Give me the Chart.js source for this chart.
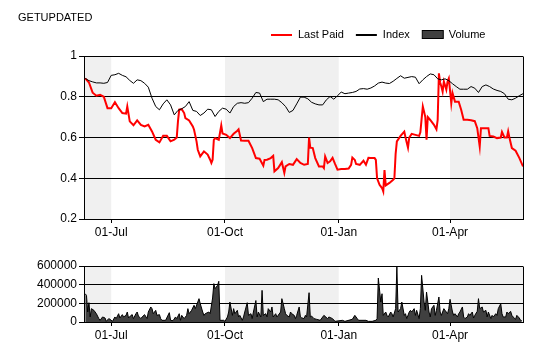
<!DOCTYPE html>
<html><head><meta charset="utf-8">
<script src="https://cdn.jsdelivr.net/npm/chart.js@4.4.1/dist/chart.umd.min.js"></script>
<style>
html,body{margin:0;padding:0;background:#fff;width:540px;height:360px;overflow:hidden}
canvas{position:absolute;left:0}
#top{top:0}
#bottom{top:245px}
</style></head><body>
<canvas id="top" width="540" height="245"></canvas>
<canvas id="bottom" width="540" height="115"></canvas>
<script>
// ---------- data (days are counted from 01-Jul) ----------
const chartTitle = 'GETUPDATED';
const seriesNames = ['Last Paid', 'Index', 'Volume'];
const tickDays = [0, 92, 184, 274];
const tickLabels = ['01-Jul', '01-Oct', '01-Jan', '01-Apr'];
const axisDayMin = -22, axisDayMax = 333;
const shadedRanges = [[-22, 0], [92, 184], [274, 333]];

const paidDay = [-21,-18,-15,-12,-9,-6,-3,0,3,6,
  9,12,13,15,18,21,24,27,30,33,
  36,39,42,45,48,51,53,54,55,57,
  59,60,63,66,67,69,70,72,75,78,
  80,81,82,83,84,87,89,90,93,96,
  99,102,103,105,108,111,114,117,120,123,
  124,126,129,131,132,135,138,140,141,144,
  147,150,153,156,159,160,161,163,165,168,
  171,172,173,175,177,179,181,183,186,189,
  192,194,195,197,198,201,204,206,208,210,
  213,214,215,217,219,220,221,222,225,228,
  229,230,231,234,237,238,240,241,243,246,
  249,250,251,252,253,254,255,256,258,261,
  263,264,265,266,267,268,269,271,272,273,
  274,275,276,278,281,283,285,288,291,294,
  296,298,299,303,305,306,309,312,315,316,
  318,320,321,322,324,327,330,333];
const paidValue = [0.89,0.87,0.82,0.805,0.81,0.80,0.744,0.744,0.773,0.744,
  0.72,0.717,0.752,0.679,0.66,0.684,0.662,0.654,0.662,0.63,
  0.589,0.576,0.608,0.608,0.581,0.589,0.60,0.68,0.737,0.739,
  0.72,0.695,0.684,0.654,0.638,0.581,0.54,0.507,0.532,0.516,
  0.491,0.475,0.491,0.589,0.597,0.589,0.659,0.62,0.613,0.597,
  0.618,0.633,0.64,0.585,0.584,0.584,0.548,0.499,0.496,0.462,
  0.49,0.491,0.499,0.51,0.434,0.45,0.479,0.426,0.458,0.47,
  0.466,0.494,0.475,0.466,0.47,0.60,0.55,0.548,0.499,0.458,
  0.458,0.45,0.507,0.475,0.483,0.50,0.47,0.442,0.445,0.445,
  0.448,0.466,0.502,0.49,0.47,0.466,0.486,0.466,0.50,0.499,
  0.499,0.49,0.40,0.368,0.352,0.335,0.44,0.365,0.377,0.393,
  0.40,0.52,0.581,0.608,0.629,0.60,0.55,0.60,0.618,0.613,
  0.608,0.625,0.69,0.752,0.727,0.70,0.589,0.70,0.686,0.662,
  0.64,0.686,0.915,0.87,0.85,0.825,0.875,0.835,0.875,0.89,
  0.83,0.768,0.818,0.776,0.776,0.736,0.687,0.687,0.685,0.68,
  0.646,0.556,0.646,0.646,0.646,0.608,0.605,0.597,0.60,0.627,
  0.60,0.60,0.63,0.60,0.548,0.535,0.50,0.458];

const indexDay = [-21,-18,-15,-12,-9,-6,-3,0,3,6,
  9,12,15,18,21,24,27,30,33,36,
  39,42,45,48,51,54,57,60,63,66,
  69,72,75,78,81,84,87,90,93,96,
  99,102,105,108,111,114,117,120,123,126,
  129,132,135,138,141,144,147,150,153,156,
  159,162,165,168,171,174,177,180,183,186,
  189,192,195,198,201,204,207,210,213,216,
  219,222,225,228,231,234,237,240,243,246,
  249,252,255,258,261,264,267,270,273,276,
  279,282,285,288,291,294,297,300,303,306,
  309,312,315,318,321,324,327,330,333];
const indexValue = [0.890,0.879,0.873,0.868,0.868,0.866,0.870,0.905,0.908,0.915,
  0.905,0.898,0.880,0.866,0.883,0.879,0.866,0.847,0.793,0.752,
  0.736,0.765,0.785,0.760,0.711,0.733,0.741,0.752,0.776,0.733,
  0.728,0.708,0.720,0.739,0.736,0.703,0.728,0.744,0.739,0.720,
  0.752,0.768,0.771,0.768,0.771,0.793,0.821,0.818,0.776,0.788,
  0.788,0.788,0.785,0.771,0.752,0.723,0.733,0.765,0.798,0.798,
  0.790,0.773,0.765,0.760,0.760,0.785,0.801,0.788,0.805,0.823,
  0.815,0.818,0.821,0.826,0.838,0.840,0.837,0.843,0.853,0.867,
  0.872,0.867,0.865,0.876,0.890,0.903,0.891,0.895,0.899,0.896,
  0.864,0.883,0.899,0.912,0.908,0.888,0.883,0.888,0.879,0.864,
  0.850,0.837,0.837,0.837,0.850,0.842,0.821,0.850,0.858,0.850,
  0.838,0.831,0.826,0.815,0.788,0.785,0.793,0.805,0.815];

const volumeDay = [-21,-20,-19,-18,-17,-16,-14,-12,-10,-9,-7,-5,-4,-2,-1,1,3,4,6,7,
  9,10,12,13,14,16,17,18,20,21,22,24,25,27,29,30,32,33,34,36,
  37,39,40,41,44,47,48,50,52,53,55,56,57,59,61,62,63,65,67,68,
  70,71,72,74,75,76,79,80,82,83,84,86,87,88,91,92,94,95,96,98,
  99,100,102,103,104,106,107,108,110,111,113,114,115,117,118,119,121,122,123,125,
  126,127,129,130,131,133,134,135,137,138,140,141,142,144,145,146,148,149,150,152,
  153,154,156,157,158,160,161,162,164,166,169,172,175,176,179,181,187,189,195,197,
  199,200,206,208,211,214,215,216,218,219,220,222,223,224,226,227,228,230,231,232,
  234,235,237,238,239,241,242,243,245,246,247,249,250,251,253,254,255,257,258,259,
  261,262,263,265,266,267,269,270,272,273,274,276,277,278,280,281,282,284,285,286,
  288,289,290,292,293,294,296,297,298,300,301,303,304,305,307,308,309,311,312,313,
  315,316,317,319,320,321,323,324,325,327,328,330,331,332];
const volumeValue = [303000,285000,107000,207000,54000,143000,125000,89000,36000,18000,54000,43000,7000,36000,29000,7000,54000,36000,89000,43000,
  79000,54000,71000,107000,43000,71000,79000,36000,89000,107000,64000,36000,54000,79000,36000,107000,161000,143000,89000,125000,
  71000,79000,36000,18000,18000,100000,18000,14000,54000,36000,89000,18000,71000,36000,71000,143000,89000,125000,179000,143000,
  214000,250000,196000,107000,71000,89000,107000,89000,257000,411000,357000,393000,436000,18000,18000,7000,54000,107000,214000,71000,
  143000,89000,125000,54000,71000,18000,54000,107000,207000,71000,89000,36000,107000,230000,54000,107000,54000,339000,71000,89000,
  54000,143000,107000,161000,54000,89000,54000,71000,107000,250000,143000,89000,71000,54000,107000,89000,71000,36000,71000,161000,
  54000,45000,36000,71000,54000,314000,54000,64000,36000,29000,18000,71000,36000,54000,36000,7000,18000,7000,29000,71000,
  36000,18000,18000,7000,7000,18000,36000,471000,214000,303000,71000,107000,71000,54000,107000,89000,54000,143000,589000,107000,
  143000,214000,71000,89000,36000,107000,125000,107000,143000,71000,125000,36000,143000,500000,214000,125000,321000,107000,54000,143000,
  179000,71000,125000,268000,107000,71000,143000,125000,89000,143000,243000,107000,71000,89000,54000,89000,107000,161000,54000,36000,
  54000,89000,71000,107000,43000,71000,114000,250000,143000,161000,107000,125000,54000,107000,36000,71000,54000,89000,71000,143000,
  196000,89000,54000,54000,107000,89000,114000,71000,54000,29000,71000,43000,18000,14000];

const priceAxis = {min: 0.2, max: 1, step: 0.2};
const volumeAxis = {min: 0, max: 600000, step: 200000};

// ---------- drawing ----------
const FONT_FAMILY = '"Liberation Sans", Arial, sans-serif';
const tickFont = {family: FONT_FAMILY, size: 12};

function pts(days, vals) { return days.map((d, i) => ({x: d, y: vals[i]})); }

function alignPx(p) { return Math.round(p - 0.5) + 0.5; }

const framePlugin = {
  id: 'frame',
  beforeDraw(chart) {
    const {ctx, chartArea: a, scales: {x}} = chart;
    ctx.save();
    ctx.fillStyle = '#f0f0f0';
    shadedRanges.forEach(([s, e]) => {
      const x0 = x.getPixelForValue(Math.max(s, x.min));
      const x1 = x.getPixelForValue(Math.min(e, x.max));
      ctx.fillRect(x0, a.top, x1 - x0, a.bottom - a.top);
    });
    ctx.restore();
  },
  afterDraw(chart) {
    const {ctx, chartArea: a} = chart;
    ctx.save();
    ctx.strokeStyle = '#000';
    ctx.lineWidth = 1;
    ctx.beginPath();
    const xr = alignPx(a.right);
    ctx.moveTo(xr, alignPx(a.top));
    ctx.lineTo(xr, alignPx(a.bottom));
    ctx.stroke();
    ctx.restore();
  }
};

const headerPlugin = {
  id: 'header',
  afterDraw(chart) {
    const ctx = chart.ctx;
    ctx.save();
    ctx.font = '11px ' + FONT_FAMILY;
    ctx.fillStyle = '#000';
    ctx.textBaseline = 'middle';
    ctx.textAlign = 'left';
    ctx.fillText(chartTitle, 18, 17.5);
    const y = 35;
    let x = 271;
    const styles = [{type: 'line', color: '#ff0000'}, {type: 'line', color: '#000000'}, {type: 'box'}];
    seriesNames.forEach((name, i) => {
      const st = styles[i];
      if (st.type === 'line') {
        ctx.strokeStyle = st.color; ctx.lineWidth = 2;
        ctx.beginPath(); ctx.moveTo(x, y); ctx.lineTo(x + 21, y); ctx.stroke();
      } else {
        ctx.fillStyle = '#404040';
        ctx.fillRect(x + 0.5, y - 4.5, 21, 8);
        ctx.strokeStyle = '#000'; ctx.lineWidth = 1;
        ctx.strokeRect(x + 0.5, y - 4.5, 21, 8);
        ctx.fillStyle = '#000';
      }
      ctx.fillText(name, x + 27, y);
      x += 27 + ctx.measureText(name).width + 12;
    });
    ctx.restore();
  }
};

function xScale(height) {
  return {
    type: 'linear', min: axisDayMin, max: axisDayMax,
    afterFit: s => { s.height = height; },
    afterBuildTicks: s => { s.ticks = tickDays.map(v => ({value: v})); },
    ticks: {autoSkip: false, maxRotation: 0, padding: 2, color: '#000', font: tickFont,
      callback: (v, i) => tickLabels[i]},
    grid: {drawOnChartArea: false, drawTicks: true, tickLength: 4, color: '#000'},
    border: {display: true, color: '#000', width: 1}
  };
}
function yScale(ax, cb) {
  return {
    min: ax.min, max: ax.max,
    afterFit: s => { s.width = 84; },
    ticks: {stepSize: ax.step, padding: 2, color: '#000', font: tickFont, callback: cb},
    grid: {color: '#000', tickLength: 5, lineWidth: 1},
    border: {display: true, color: '#000', width: 1}
  };
}

const common = {
  responsive: false, animation: false, devicePixelRatio: 1, events: [],
  plugins: {legend: {display: false}, tooltip: {enabled: false}, title: {display: false}},
  elements: {point: {radius: 0}, line: {tension: 0}}
};

new Chart(document.getElementById('top'), {
  type: 'line',
  data: {datasets: [
    {label: seriesNames[1], data: pts(indexDay, indexValue), borderColor: '#000000', borderWidth: 1, fill: false},
    {label: seriesNames[0], data: pts(paidDay, paidValue), borderColor: '#ff0000', borderWidth: 2, fill: false}
  ]},
  options: Object.assign({}, common, {
    layout: {padding: {top: 56, right: 17, left: 0, bottom: 0}},
    scales: {x: xScale(26), y: yScale(priceAxis, v => String(Math.round(v * 10) / 10))}
  }),
  plugins: [framePlugin, headerPlugin]
});

new Chart(document.getElementById('bottom'), {
  type: 'line',
  data: {datasets: [
    {label: seriesNames[2], data: pts(volumeDay, volumeValue), borderColor: '#000000', borderWidth: 1,
     backgroundColor: '#404040', fill: 'origin'}
  ]},
  options: Object.assign({}, common, {
    layout: {padding: {top: 21, right: 17, left: 0, bottom: 0}},
    scales: {x: xScale(38), y: yScale(volumeAxis, v => String(v))}
  }),
  plugins: [framePlugin]
});
</script>
</body></html>
